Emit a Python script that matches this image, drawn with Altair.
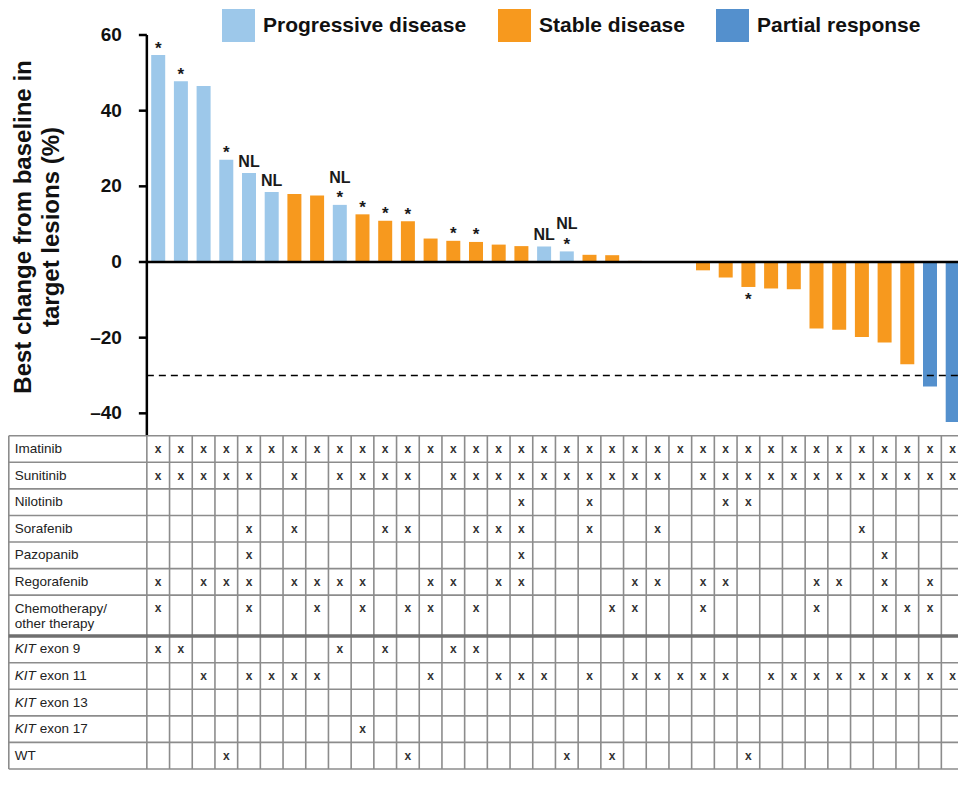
import altair as alt
import pandas as pd

# ---------------- data ----------------
values = [54.7, 47.8, 46.5, 27.0, 23.5, 18.5, 18.0, 17.6, 15.1, 12.6, 10.9, 10.8,
          6.2, 5.6, 5.3, 4.6, 4.2, 4.1, 2.8, 1.9, 1.8, 0.3, 0.0, 0.0,
          -2.2, -4.1, -6.6, -7.0, -7.2, -17.6, -17.9, -19.8, -21.3, -27.0, -32.9, -42.3]
PD, SD, PR = "Progressive disease", "Stable disease", "Partial response"
response = ([PD] * 6 + [SD] * 2 + [PD] + [SD] * 8 + [PD] * 2 + [SD] * 15 + [PR] * 2)
star_idx = [0, 1, 3, 8, 9, 10, 11, 13, 14, 18, 26]
nl_idx = [4, 5, 8, 17, 18]
threshold = -30
y_ticks = [60, 40, 20, 0, -20, -40]
y_title = "Best change from baseline in\ntarget lesions (%)"

drug_labels = ["Imatinib", "Sunitinib", "Nilotinib", "Sorafenib", "Pazopanib",
               "Regorafenib", "Chemotherapy/\nother therapy"]
imatinib = [0, 1, 2, 3, 4, 5, 6, 7, 8, 9, 10, 11, 12, 13, 14, 15, 16, 17, 18, 19, 20,
            21, 22, 23, 24, 25, 26, 27, 28, 29, 30, 31, 32, 33, 34, 35]
sunitinib = [0, 1, 2, 3, 4, 6, 8, 9, 10, 11, 13, 14, 15, 16, 17, 18, 19, 20, 21, 22,
             24, 25, 26, 27, 28, 29, 30, 31, 32, 33, 34, 35]
nilotinib = [16, 19, 25, 26]
sorafenib = [4, 6, 10, 11, 14, 15, 16, 19, 22, 31]
pazopanib = [4, 16, 32]
regorafenib = [0, 2, 3, 4, 6, 7, 8, 9, 12, 13, 15, 16, 21, 22, 24, 25, 29, 30, 32, 34]
chemo = [0, 4, 7, 9, 11, 12, 14, 20, 21, 24, 29, 32, 33, 34]

mut_prefix = ["KIT", "KIT", "KIT", "KIT", ""]
mut_labels = ["exon 9", "exon 11", "exon 13", "exon 17", "WT"]
kit9 = [0, 1, 8, 10, 13, 14]
kit11 = [2, 4, 5, 6, 7, 12, 15, 16, 17, 19, 21, 22, 23, 24, 25, 27, 28, 29, 30, 31,
         32, 33, 34, 35]
kit13 = []
kit17 = [9]
wt = [3, 11, 18, 20, 26]

colors = ["#9DC8EA", "#F7991E", "#5490CD"]

# ---------------- layout ----------------
W_TOTAL, H = 950, 762
FONT = "Liberation Sans"
n = len(values)
col_px, c0_px = 22.7, 150.2           # column width, centre of column 0 (chart px)
axis_px = c0_px - 0.5 * col_px         # y-axis position (left padding)
W = W_TOTAL - axis_px                  # plot width
xs = alt.Scale(domain=[-0.5, (W_TOTAL - c0_px) / col_px], nice=False, zero=False,
               padding=0)
pxu, y0_px = 227 / 60, 254
ys = alt.Scale(domain=[-(H - y0_px) / pxu, y0_px / pxu], nice=False, zero=False,
               padding=0)
top_px = 427.7
row_px = (H - 1 - top_px) / 12.54
ts = alt.Scale(domain=[-top_px / row_px, (H - top_px) / row_px], nice=False,
               zero=False, reverse=True, padding=0)
table_top_pct = -(top_px - y0_px) / pxu
lab_x = (6.7 - c0_px) / col_px
left_x = (0.8 - c0_px) / col_px
tick_len = 8 / col_px

# ---------------- frames ----------------
bar_df = pd.DataFrame({"idx": list(range(n)), "value": values, "response": response})

star_pos = pd.DataFrame([{"idx": i, "value": values[i]} for i in star_idx if values[i] > 0])
star_neg = pd.DataFrame([{"idx": i, "value": values[i]} for i in star_idx if values[i] < 0])
nl_plain = pd.DataFrame([{"idx": i, "value": values[i]} for i in nl_idx if i not in star_idx])
nl_star = pd.DataFrame([{"idx": i, "value": values[i]} for i in nl_idx if i in star_idx])

row_marks = [imatinib, sunitinib, nilotinib, sorafenib, pazopanib, regorafenib, chemo,
             kit9, kit11, kit13, kit17, wt]
heights = [1, 1, 1, 1, 1, 1, 1.54, 1, 1, 1, 1, 1]
tops = [sum(heights[:i]) for i in range(len(heights))]
bottom = sum(heights)

cells = []
for r, lst in enumerate(row_marks):
    for i in lst:
        cells.append({"idx": i, "ty": tops[r] + 0.5})
cells_df = pd.DataFrame(cells)

plain_labels, chemo_labels, kit_labels = [], [], []
for r, lab in enumerate(drug_labels):
    rec = {"x": lab_x, "ty": tops[r] + heights[r] / 2, "label": lab}
    (chemo_labels if "\n" in lab else plain_labels).append(rec)
for j, lab in enumerate(mut_labels):
    r = len(drug_labels) + j
    rec = {"x": lab_x, "ty": tops[r] + heights[r] / 2, "pre": mut_prefix[j], "label": lab}
    (kit_labels if mut_prefix[j] else plain_labels).append(rec)
plain_df = pd.DataFrame(plain_labels)
chemo_df = pd.DataFrame(chemo_labels)
kit_df = pd.DataFrame(kit_labels)

vlines = pd.DataFrame({"x": [left_x] + [k - 0.5 for k in range(n + 1)],
                       "t1": 0, "t2": bottom})
hlines = pd.DataFrame({"ty": tops + [bottom], "x1": left_x, "x2": n - 0.5})
sep = pd.DataFrame({"ty": [tops[len(drug_labels)]], "x1": [left_x], "x2": [n - 0.5]})

ref_df = pd.DataFrame({"y": [0], "x1": [-0.5], "x2": [n - 0.5]})
thr_df = pd.DataFrame({"y": [threshold], "x1": [-0.5], "x2": [n - 0.5]})
axis_df = pd.DataFrame({"x": [-0.5], "y1": [max(y_ticks)], "y2": [table_top_pct]})
tick_df = pd.DataFrame({"y": y_ticks, "x1": -0.5 - tick_len, "x2": -0.5,
                        "label": [str(v).replace("-", "\u2013") for v in y_ticks]})

# ---------------- top chart ----------------
bars = alt.Chart(bar_df).mark_bar(size=14).encode(
    x=alt.X("idx:Q", scale=xs, axis=None),
    y=alt.Y("value:Q", scale=ys, axis=None),
    y2=alt.datum(0),
    color=alt.Color("response:N",
                    scale=alt.Scale(domain=[PD, SD, PR], range=colors),
                    legend=alt.Legend(title=None, orient="none",
                                      legendX=214 - axis_px, legendY=1,
                                      direction="horizontal", symbolType="square",
                                      symbolSize=1089, symbolStrokeWidth=0,
                                      symbolOpacity=1,
                                      labelFont=FONT, labelFontSize=21,
                                      labelFontWeight="bold", labelColor="#111",
                                      labelOffset=8, columnPadding=31, padding=0,
                                      labelLimit=400)),
)


def hrule(df, **kw):
    return alt.Chart(df).mark_rule(**kw).encode(
        x=alt.X("x1:Q", scale=xs, axis=None), x2="x2:Q",
        y=alt.Y("y:Q", scale=ys, axis=None))


zero_line = hrule(ref_df, color="black", strokeWidth=2.5)
thr_line = hrule(thr_df, color="black", strokeWidth=1.5, strokeDash=[7, 5])
ticks = hrule(tick_df, color="black", strokeWidth=2.5)
axis_line = alt.Chart(axis_df).mark_rule(color="black", strokeWidth=2.5).encode(
    x=alt.X("x:Q", scale=xs, axis=None),
    y=alt.Y("y1:Q", scale=ys, axis=None), y2="y2:Q")
tick_labels = alt.Chart(tick_df).mark_text(
    font=FONT, fontSize=19, fontWeight="bold", color="#111", align="right",
    baseline="middle", dx=-17).encode(
    x=alt.X("x1:Q", scale=xs, axis=None),
    y=alt.Y("y:Q", scale=ys, axis=None), text="label:N")
title = alt.Chart(pd.DataFrame({"t": [y_title]})).mark_text(
    font=FONT, fontSize=24, fontWeight="bold", color="#111", angle=270,
    align="center", baseline="middle", lineBreak="\n", lineHeight=27.5).encode(
    x=alt.value(16 - axis_px), y=alt.value(219), text="t:N")


def ann(df, text, size, dy):
    return alt.Chart(df).mark_text(text=text, font=FONT, fontSize=size, fontWeight="bold",
                                   color="#1a1a1a", baseline="alphabetic", dy=dy).encode(
        x=alt.X("idx:Q", scale=xs, axis=None),
        y=alt.Y("value:Q", scale=ys, axis=None))


top = alt.layer(bars, thr_line, zero_line, axis_line, ticks, tick_labels, title,
                ann(star_pos, "*", 17, -1.5), ann(star_neg, "*", 17, 18),
                ann(nl_plain, "NL", 16, -6), ann(nl_star, "NL", 16, -22))

# ---------------- table ----------------
GRID = "#8c8c8c"
vl = alt.Chart(vlines).mark_rule(color=GRID, strokeWidth=1.6).encode(
    x=alt.X("x:Q", scale=xs, axis=None),
    y=alt.Y("t1:Q", scale=ts, axis=None), y2="t2:Q")
hl = alt.Chart(hlines).mark_rule(color=GRID, strokeWidth=1.6).encode(
    x=alt.X("x1:Q", scale=xs, axis=None), x2="x2:Q",
    y=alt.Y("ty:Q", scale=ts, axis=None))
sp = alt.Chart(sep).mark_rule(color="#6f6f6f", strokeWidth=3.5).encode(
    x=alt.X("x1:Q", scale=xs, axis=None), x2="x2:Q",
    y=alt.Y("ty:Q", scale=ts, axis=None))
xm = alt.Chart(cells_df).mark_text(text="x", font=FONT, fontSize=12, fontWeight="bold",
                                   color="#333", baseline="middle").encode(
    x=alt.X("idx:Q", scale=xs, axis=None),
    y=alt.Y("ty:Q", scale=ts, axis=None))


def label_layer(df, field, **kw):
    return alt.Chart(df).mark_text(font=FONT, fontSize=13.5, color="#222", align="left",
                                   baseline="middle", **kw).encode(
        x=alt.X("x:Q", scale=xs, axis=None),
        y=alt.Y("ty:Q", scale=ts, axis=None), text=f"{field}:N")


pl = label_layer(plain_df, "label")
cl = label_layer(chemo_df, "label", lineBreak="\n", lineHeight=15, dy=-7)
kp = label_layer(kit_df, "pre", fontStyle="italic")
kl = label_layer(kit_df, "label", dx=25)

table = alt.layer(vl, hl, sp, xm, pl, cl, kp, kl)

chart = alt.layer(top, table).resolve_scale(y="independent").properties(
    width=W, height=H,
    padding={"left": axis_px, "right": 0, "top": 0, "bottom": 0},
    autosize=alt.AutoSizeParams(type="none"),
    background="white",
).configure_view(stroke=None)

chart.save("out.html", embed_options={"renderer": "svg", "actions": False})
